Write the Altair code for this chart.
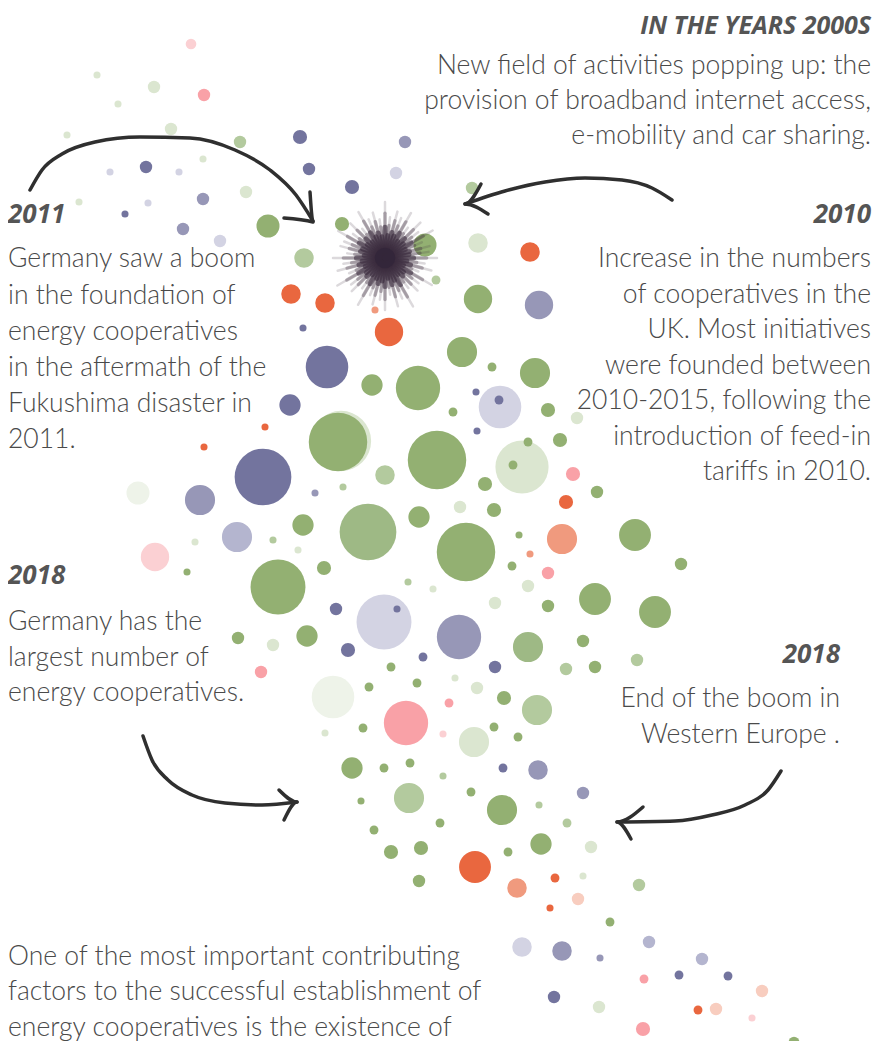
import math
import altair as alt
import pandas as pd

# ---------------- colour codes ----------------
color_codes = ["G", "G2", "g", "gl", "gx", "P", "p", "p2", "pl", "O", "o", "ol", "K", "k"]
color_hex = ["#93b072", "#9eb985", "#b3ca9e", "#dbe6d0", "#eef3e9", "#73749e", "#9797b7",
             "#b4b5cf", "#d3d3e3", "#e9673f", "#f09a7e", "#f8cdbf", "#f9a1a7", "#fbd0d3"]

# ---------------- circles (x, y, radius, colour) ----------------
top_dots = [
    (209, 2, 4, "gl"), (191, 44, 6, "k"), (97, 75, 4, "gl"), (154, 87, 7, "gl"), (204, 95, 7, "K"),
    (118, 104, 4, "gl"), (171, 129, 7, "gl"), (67, 135, 4, "gl"), (240, 142, 7, "g"), (300, 137, 8, "P"),
    (405, 142, 7, "p"), (146, 167, 7, "P"), (110, 172, 4, "pl"), (179, 172, 4, "pl"), (203, 159, 4, "gl"),
    (309, 169, 7, "P"), (396, 173, 7, "pl"), (352, 187, 8, "P"), (246, 192, 7, "gl"), (203, 199, 7, "p"),
    (148, 203, 4, "pl"), (79, 202, 4, "gl"), (125, 214, 4, "P"), (183, 229, 7, "p"), (220, 241, 7, "pl"),
    (472, 188, 7, "g"),
]
upper_dots = [
    (268, 226, 13, "G"), (342, 224, 8, "G"), (304, 258, 11, "g"), (425, 245, 13, "G"), (436, 280, 5, "g"),
    (478, 243, 11, "gl"), (530, 252, 11, "O"), (291, 294, 11, "O"), (325, 303, 11, "O"), (375, 310, 4, "o"),
    (389, 332, 16, "O"), (303, 328, 4, "P"), (478, 299, 16, "G"), (539, 305, 16, "p"), (462, 352, 17, "G"),
    (492, 367, 5, "G"), (327, 367, 24, "P"), (372, 385, 12, "G"), (418, 388, 25, "G"), (535, 373, 17, "G"),
    (290, 405, 12, "P"), (476, 392, 4, "P"), (500, 407, 24, "pl"), (499, 400, 5, "P"), (477, 431, 4, "P"),
    (453, 412, 5, "G"), (548, 410, 8, "G"), (577, 418, 7, "gl"), (341, 441, 34, "gl"), (338, 442, 33, "G"),
    (437, 460, 33, "G"), (522, 467, 30, "gl"), (528, 442, 5, "G"), (513, 465, 5, "G"), (560, 440, 8, "G"),
    (265, 427, 4, "O"), (204, 447, 4, "O"), (263, 477, 32, "P"), (385, 475, 11, "g"), (343, 487, 4, "g"),
    (315, 493, 4, "p"), (573, 474, 8, "K"), (566, 502, 8, "O"), (597, 492, 7, "G"), (485, 484, 8, "G"),
    (460, 507, 7, "gl"), (494, 510, 8, "G"), (419, 517, 12, "G"), (200, 500, 17, "p"), (138, 493, 13, "gx"),
]
mid_dots = [
    (303, 525, 12, "G"), (368, 532, 32, "G2"), (237, 537, 17, "p2"), (195, 542, 4, "gl"), (273, 540, 4, "g"),
    (298, 550, 4, "gl"), (187, 572, 4, "G"), (155, 557, 16, "k"), (278, 587, 31, "G"), (324, 568, 8, "G"),
    (408, 582, 4, "g"), (433, 589, 4, "gl"), (466, 552, 33, "G"), (519, 535, 4, "G"), (530, 554, 4, "o"),
    (562, 539, 17, "o"), (512, 566, 5, "G"), (548, 573, 7, "K"), (528, 586, 7, "gl"), (495, 603, 7, "gl"),
    (548, 606, 7, "G"), (595, 599, 18, "G"), (635, 535, 18, "G"), (681, 564, 7, "G"), (655, 612, 18, "G"),
    (336, 609, 7, "P"), (384, 622, 31, "pl"), (397, 609, 4, "P"), (459, 637, 25, "p"), (238, 638, 7, "G"),
    (273, 645, 7, "gl"), (307, 636, 12, "G"), (348, 650, 8, "P"), (423, 657, 5, "P"), (391, 667, 5, "G"),
    (495, 667, 7, "P"), (528, 647, 17, "G2"), (583, 641, 7, "G"), (566, 669, 7, "g"), (595, 667, 7, "G"),
    (637, 660, 7, "g"), (261, 672, 7, "K"),
]
low_dots = [
    (333, 697, 24, "gx"), (369, 687, 5, "G"), (417, 683, 5, "G"), (455, 678, 4, "gl"), (477, 688, 7, "gl"),
    (504, 698, 8, "G"), (537, 710, 17, "g"), (449, 703, 5, "K"), (406, 723, 25, "K"), (363, 728, 5, "G"),
    (325, 733, 4, "gl"), (443, 734, 4, "k"), (474, 742, 17, "gl"), (494, 727, 5, "G"), (518, 737, 5, "G"),
    (352, 768, 12, "G"), (384, 768, 5, "G"), (410, 763, 5, "G"), (443, 776, 4, "g"), (503, 768, 5, "P"),
    (538, 770, 11, "p"), (471, 792, 5, "G"), (583, 793, 7, "p"), (409, 798, 17, "g"), (361, 801, 4, "G"),
    (502, 810, 17, "G"), (539, 805, 4, "g"), (440, 823, 5, "G"), (374, 830, 5, "G"), (567, 823, 5, "g"),
    (391, 852, 8, "G"), (421, 848, 8, "G"), (475, 867, 18, "O"), (508, 852, 5, "G"), (541, 844, 12, "G"),
    (591, 847, 7, "gl"),
]
tail_dots = [
    (419, 881, 7, "G"), (517, 888, 11, "o"), (555, 878, 5, "O"), (583, 876, 4, "gl"), (639, 885, 7, "g"),
    (578, 899, 7, "ol"), (550, 908, 4, "O"), (610, 922, 5, "G"), (522, 947, 11, "pl"), (562, 951, 11, "p"),
    (600, 958, 4, "p"), (649, 942, 7, "p2"), (702, 959, 7, "p2"), (644, 979, 5, "K"), (679, 975, 5, "P"),
    (728, 976, 5, "P"), (762, 991, 7, "ol"), (698, 1010, 5, "O"), (716, 1009, 7, "ol"), (554, 997, 7, "P"),
    (599, 1007, 7, "gl"), (752, 1018, 4, "k"), (643, 1029, 8, "K"), (794, 1042, 6, "G"),
]

# ---------------- starburst (centre, ray angles in degrees, ray lengths) ----------------
burst_center = (385, 258)
ray_angles = [0, 8, 15, 22, 30, 37, 45, 52, 60, 67, 75, 82, 90, 97, 105, 112, 120, 127, 135, 142,
              150, 157, 165, 172, 180, 187, 195, 202, 210, 217, 225, 232, 240, 247, 255, 262, 270,
              277, 285, 292, 300, 307, 315, 322, 330, 337, 345, 352]
ray_lengths = [52, 40, 48, 36, 54, 42, 46, 38, 56, 44, 50, 37, 52, 42, 48, 40, 54, 38, 47, 43,
               55, 39, 49, 42, 52, 38, 46, 44, 54, 40, 49, 37, 53, 42, 47, 39, 56, 41, 48, 43,
               52, 38, 50, 42, 55, 40, 46, 44]

# ---------------- hand-drawn arrows (polyline points) ----------------
arrow_2011 = [(30, 190), (42, 170), (62, 154), (95, 142), (140, 137), (190, 138), (235, 150),
              (270, 170), (296, 195), (313, 221)]
head_2011 = [(310, 192), (313, 222), (284, 218)]
arrow_2010 = [(672, 200), (652, 188), (622, 180), (585, 178), (545, 182), (505, 191), (465, 204)]
head_2010 = [(481, 184), (465, 204), (488, 214)]
arrow_2018l = [(143, 736), (152, 760), (168, 780), (192, 795), (225, 803), (262, 805), (297, 802)]
head_2018l = [(279, 790), (297, 802), (284, 820)]
arrow_2018r = [(781, 771), (768, 790), (745, 805), (712, 815), (675, 821), (617, 822)]
head_2018r = [(643, 807), (617, 822), (631, 839)]

# ---------------- texts ----------------
title_text = ["IN THE YEARS 2000S"]
title_x = [871]
title_y = [34]

heading_text = ["2011", "2010", "2018", "2018"]
heading_x = [8, 871, 8, 840]
heading_y = [215, 215, 576, 655]
heading_align = ["left", "right", "left", "right"]

body_text = [
    "New field of activities popping up: the", "provision of broadband internet access,",
    "e-mobility and car sharing.",
    "Germany saw a boom", "in the foundation of", "energy cooperatives", "in the aftermath of the",
    "Fukushima disaster in", "2011.",
    "Increase in the numbers", "of cooperatives in the", "UK. Most initiatives", "were founded between",
    "2010-2015, following the", "introduction of feed-in", "tariffs in 2010.",
    "Germany has the", "largest number of", "energy cooperatives.",
    "End of the boom in", "Western Europe .",
    "One of the most important contributing", "factors to the successful establishment of",
    "energy cooperatives is the existence of",
]
body_x = [871] * 3 + [8] * 6 + [871] * 7 + [8] * 3 + [840] * 2 + [8] * 3
body_y = [66, 101, 136,
          259, 296, 332, 368, 404, 440,
          259, 295, 330, 366, 401, 437, 472,
          622, 658, 693,
          699, 735,
          957, 992, 1028]
body_align = ["right"] * 3 + ["left"] * 6 + ["right"] * 7 + ["left"] * 3 + ["right"] * 2 + ["left"] * 3

# ---------------- build ----------------
W, H = 864, 1033
xs = alt.Scale(domain=[8, 8 + W])
ys = alt.Scale(domain=[8, 8 + H], reverse=True)
X = lambda f: alt.X(f, type="quantitative", scale=xs, axis=None)
Y = lambda f: alt.Y(f, type="quantitative", scale=ys, axis=None)

dots = top_dots + upper_dots + mid_dots + low_dots + tail_dots
dots_df = pd.DataFrame(dots, columns=["x", "y", "r", "c"])
dots_df["area"] = math.pi * dots_df["r"] ** 2
dots_df = dots_df.sort_values("r", ascending=False, kind="stable").reset_index(drop=True)
dots_df["ord"] = range(len(dots_df))

circles = alt.Chart(dots_df).mark_circle(opacity=1).encode(
    x=X("x"), y=Y("y"),
    size=alt.Size("area:Q", scale=None),
    color=alt.Color("c:N", scale=alt.Scale(domain=color_codes, range=color_hex), legend=None),
    order=alt.Order("ord:Q"),
)

ray_df = pd.DataFrame({"a": ray_angles, "len": ray_lengths})
ray_df["cx"] = burst_center[0]
ray_df["cy"] = burst_center[1]


def ray_layer(scale_len, width, opac):
    return alt.Chart(ray_df).transform_calculate(
        x2=f"datum.cx + {scale_len} * datum.len * cos(datum.a * PI / 180)",
        y2=f"datum.cy + {scale_len} * datum.len * sin(datum.a * PI / 180)",
    ).mark_rule(color="#3b2c3d", strokeWidth=width, opacity=opac, strokeCap="round").encode(
        x=X("cx"), y=Y("cy"), x2="x2:Q", y2="y2:Q"
    )


burst = alt.layer(
    ray_layer(1.0, 2.5, 0.18),
    ray_layer(0.8, 3.5, 0.35),
    ray_layer(0.55, 5, 0.6),
    alt.Chart(pd.DataFrame({"x": [burst_center[0]], "y": [burst_center[1]]})).mark_circle(
        color="#33263a", opacity=0.9, size=420).encode(x=X("x"), y=Y("y")),
)

arrow_rows = []
for name, pts in [("a1", arrow_2011), ("h1", head_2011), ("a2", arrow_2010), ("h2", head_2010),
                  ("a3", arrow_2018l), ("h3", head_2018l), ("a4", arrow_2018r), ("h4", head_2018r)]:
    for i, (px, py) in enumerate(pts):
        arrow_rows.append({"id": name, "i": i, "x": px, "y": py})
arrows = alt.Chart(pd.DataFrame(arrow_rows)).mark_line(
    color="#2f2f2f", strokeWidth=3.5, strokeCap="round", strokeJoin="round", interpolate="monotone"
).encode(x=X("x"), y=Y("y"), detail="id:N", order="i:Q")

title = alt.Chart(pd.DataFrame({"t": title_text, "x": title_x, "y": title_y})).mark_text(
    align="right", baseline="alphabetic", font="Open Sans", fontSize=25, fontWeight="bold",
    fontStyle="italic", color="#555555"
).encode(x=X("x"), y=Y("y"), text="t:N")

head_df = pd.DataFrame({"t": heading_text, "x": heading_x, "y": heading_y, "al": heading_align})
heads = alt.layer(*[
    alt.Chart(head_df[head_df["al"] == al]).mark_text(
        align=al, baseline="middle", font="Open Sans", fontSize=26, fontWeight="bold",
        fontStyle="italic", color="#555555"
    ).encode(x=X("x"), y=Y("y"), text="t:N")
    for al in ["left", "right"]
])

body_df = pd.DataFrame({"t": body_text, "x": body_x, "y": body_y, "al": body_align})
bodies = alt.layer(*[
    alt.Chart(body_df[body_df["al"] == al]).mark_text(
        align=al, baseline="middle", font="Lato", fontSize=26.5, fontWeight=300, color="#4a4a4a"
    ).encode(x=X("x"), y=Y("y"), text="t:N")
    for al in ["left", "right"]
])

chart = alt.layer(circles, burst, arrows, title, heads, bodies).properties(
    width=W, height=H, padding=0, autosize=alt.AutoSizeParams(type="none")
).configure(background="white").configure_view(stroke=None)

chart.save("out.html", embed_options={"renderer": "svg", "actions": False})
